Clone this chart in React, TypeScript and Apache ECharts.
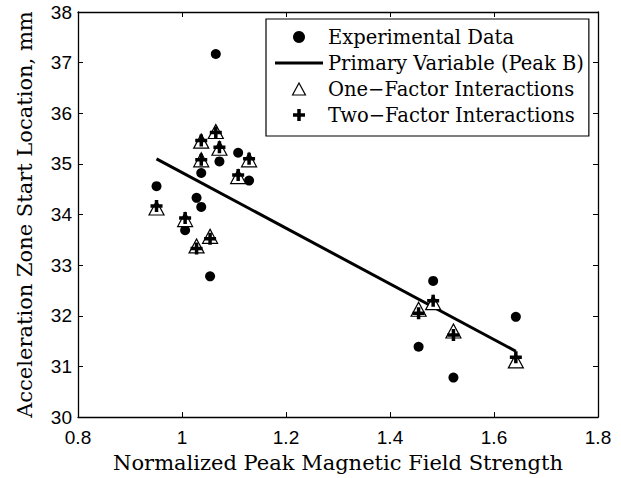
import React, { useEffect, useRef } from "react";
import * as echarts from "echarts";

const xValues = [0.951, 1.006, 1.028, 1.037, 1.037, 1.054, 1.065, 1.072, 1.108, 1.129, 1.455, 1.483, 1.522, 1.642];
const experimental = [34.56, 33.69, 34.33, 34.82, 34.15, 32.78, 37.17, 35.05, 35.22, 34.67, 31.39, 32.69, 30.78, 31.98];
const oneFactor = [34.13, 33.9, 33.38, 35.45, 35.08, 33.57, 35.64, 35.31, 34.75, 35.08, 32.13, 32.26, 31.7, 31.11];
const twoFactor = [34.17, 33.93, 33.33, 35.46, 35.08, 33.52, 35.62, 35.33, 34.78, 35.1, 32.05, 32.3, 31.62, 31.18];
const primaryX = [0.951, 1.642];
const primaryY = [35.1, 31.3];

const xTicks = [0.8, 1, 1.2, 1.4, 1.6, 1.8];
const yTicks = [30, 31, 32, 33, 34, 35, 36, 37, 38];

const seriesNames = [
  "Experimental Data",
  "Primary Variable (Peak B)",
  "One\u2212Factor Interactions",
  "Two\u2212Factor Interactions",
];

const PLUS = "path://M4.25,0H7.75V4.25H12V7.75H7.75V12H4.25V7.75H0V4.25H4.25Z";
const TRI = "path://M7,0L14,13H0Z";
const LINE_ICON = "path://M0,0H48V3H0Z";
const SERIF = "DejaVu Serif";
const SANS = "Liberation Sans";

export default function App() {
  const ref = useRef<HTMLDivElement>(null);
  useEffect(() => {
    if (!ref.current) return;
    const chart = echarts.init(ref.current, null, { renderer: "svg" });
    const pairs = (ys: number[]) => xValues.map((x, i) => [x, ys[i]]);
    const axisLine = { show: true, lineStyle: { color: "#000", width: 1.3 } };
    const axisTick = { show: true, inside: true, length: 5, lineStyle: { color: "#000", width: 1 } };
    chart.setOption({
      animation: false,
      backgroundColor: "#fff",
      grid: { left: 78, right: 23, top: 12, bottom: 60, containLabel: false },
      xAxis: [
        {
          type: "value",
          min: 0.8,
          max: 1.8,
          interval: 0.2,
          axisLine,
          axisTick,
          splitLine: { show: false },
          axisLabel: {
            color: "#000",
            fontFamily: SANS,
            fontSize: 19,
            margin: 11,
            formatter: (v: number) => {
              const t = xTicks.find((k) => Math.abs(k - v) < 1e-6);
              return t === undefined ? "" : String(t);
            },
          },
          name: "Normalized Peak Magnetic Field Strength",
          nameLocation: "middle",
          nameGap: 32,
          nameTextStyle: { color: "#000", fontFamily: SERIF, fontSize: 21 },
        },
        {
          type: "value",
          position: "top",
          min: 0.8,
          max: 1.8,
          interval: 0.2,
          axisLine,
          axisTick,
          axisLabel: { show: false },
          splitLine: { show: false },
        },
      ],
      yAxis: [
        {
          type: "value",
          min: 30,
          max: 38,
          interval: 1,
          axisLine,
          axisTick,
          splitLine: { show: false },
          axisLabel: {
            color: "#000",
            fontFamily: SANS,
            fontSize: 19,
            margin: 6,
            formatter: (v: number) => {
              const t = yTicks.find((k) => Math.abs(k - v) < 1e-6);
              return t === undefined ? "" : String(t);
            },
          },
          name: "Acceleration Zone Start Location, mm",
          nameLocation: "middle",
          nameGap: 43,
          nameTextStyle: { color: "#000", fontFamily: SERIF, fontSize: 21 },
        },
        {
          type: "value",
          position: "right",
          min: 30,
          max: 38,
          interval: 1,
          axisLine,
          axisTick,
          axisLabel: { show: false },
          splitLine: { show: false },
        },
      ],
      legend: {
        left: 266,
        top: 19,
        orient: "vertical",
        backgroundColor: "#fff",
        borderColor: "#000",
        borderWidth: 1.2,
        borderRadius: 0,
        padding: [8, 5, 11, 9],
        itemWidth: 48,
        itemHeight: 12,
        itemGap: 6,
        textStyle: { color: "#000", fontFamily: SERIF, fontSize: 19.5 },
        data: [
          { name: seriesNames[0], icon: "circle", itemStyle: { color: "#000" } },
          { name: seriesNames[1], icon: LINE_ICON, itemStyle: { color: "#000" } },
          { name: seriesNames[2], icon: TRI, itemStyle: { color: "#fff", borderColor: "#000", borderWidth: 1.2 } },
          { name: seriesNames[3], icon: PLUS, itemStyle: { color: "#000" } },
        ],
      },
      series: [
        {
          name: seriesNames[0],
          type: "scatter",
          data: pairs(experimental),
          symbol: "circle",
          symbolSize: 10,
          itemStyle: { color: "#000", opacity: 1 },
          z: 2,
        },
        {
          name: seriesNames[1],
          type: "line",
          data: primaryX.map((x, i) => [x, primaryY[i]]),
          showSymbol: false,
          symbol: "none",
          lineStyle: { color: "#000", width: 3 },
          itemStyle: { color: "#000" },
          z: 3,
        },
        {
          name: seriesNames[2],
          type: "scatter",
          data: pairs(oneFactor),
          symbol: "triangle",
          symbolSize: [15, 14],
          itemStyle: { color: "#fff", borderColor: "#000", borderWidth: 1.2, opacity: 1 },
          z: 4,
        },
        {
          name: seriesNames[3],
          type: "scatter",
          data: pairs(twoFactor),
          symbol: PLUS,
          symbolSize: 12,
          itemStyle: { color: "#000", opacity: 1 },
          z: 5,
        },
      ],
    });
    return () => chart.dispose();
  }, []);
  return <div ref={ref} style={{ width: 621, height: 478, position: "absolute", left: 0, top: 0 }} />;
}
